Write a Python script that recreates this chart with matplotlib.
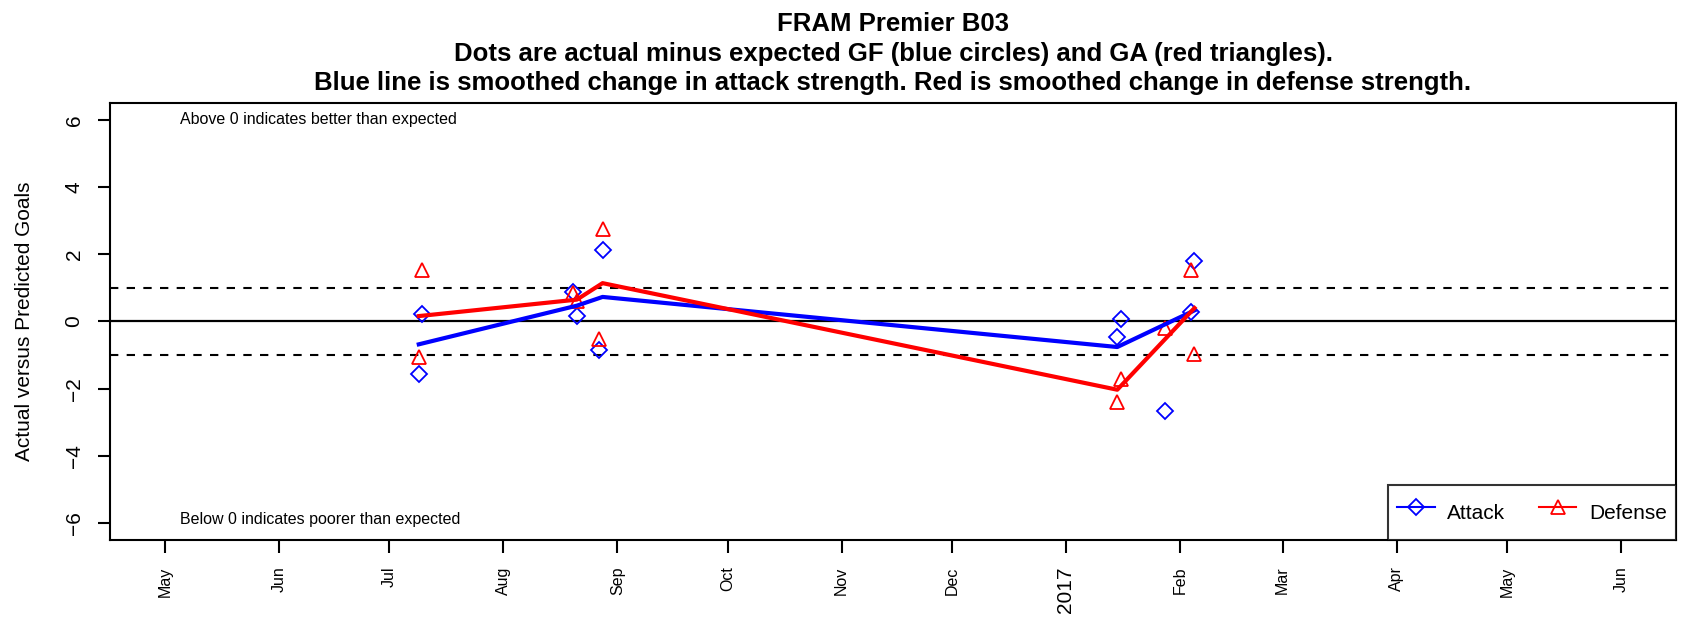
import numpy as np
import pandas as pd
import matplotlib
matplotlib.use('Agg')
import matplotlib.pyplot as plt

plt.rcParams['font.family'] = ['Liberation Sans', 'DejaVu Sans']

# game dates and actual minus expected goals
game_dates = pd.to_datetime(['2016-07-09', '2016-07-10', '2016-08-20', '2016-08-21',
                             '2016-08-27', '2016-08-28', '2017-01-15', '2017-01-16',
                             '2017-01-28', '2017-02-04', '2017-02-05'])
attack_pts = [-1.57, 0.23, 0.87, 0.16, -0.85, 2.13, -0.46, 0.06, -2.67, 0.28, 1.81]
defense_pts = [-1.07, 1.52, 0.85, 0.60, -0.53, 2.74, -2.39, -1.72, -0.19, 1.52, -0.98]

# smoothed strength change
smooth_dates = pd.to_datetime(['2016-07-09', '2016-08-21', '2016-08-28',
                               '2017-01-15', '2017-02-05'])
attack_smooth = [-0.68, 0.47, 0.73, -0.76, 0.33]
defense_smooth = [0.16, 0.65, 1.14, -2.03, 0.40]

month_ticks = pd.date_range('2016-05-01', '2017-06-01', freq='MS')
month_labels = ['May', 'Jun', 'Jul', 'Aug', 'Sep', 'Oct', 'Nov', 'Dec',
                '2017', 'Feb', 'Mar', 'Apr', 'May', 'Jun']

fig = plt.figure(figsize=(16.84, 6.2), dpi=100)
ax = fig.add_axes([0.0653, 0.129, 0.93, 0.705])

ax.axhline(0, color='black', lw=1.6)
ax.axhline(1, color='black', lw=1.5, linestyle=(0, (4, 4)))
ax.axhline(-1, color='black', lw=1.5, linestyle=(0, (4, 4)))

ax.plot(game_dates, attack_pts, linestyle='None', marker='D', markersize=8,
        markerfacecolor='none', markeredgecolor='blue', markeredgewidth=1.3)
ax.plot(game_dates, defense_pts, linestyle='None', marker='^', markersize=10,
        markerfacecolor='none', markeredgecolor='red', markeredgewidth=1.3)

ax.plot(smooth_dates, attack_smooth, color='blue', lw=3)
ax.plot(smooth_dates, defense_smooth, color='red', lw=3)

ax.set_xlim(pd.Timestamp('2016-04-16'), pd.Timestamp('2017-06-16'))
ax.set_ylim(-6.5, 6.5)

ax.set_yticks([-6, -4, -2, 0, 2, 4, 6])
ax.set_yticklabels(['\u22126', '\u22124', '\u22122', '0', '2', '4', '6'],
                   rotation=90, va='center', fontsize=15)
ax.set_xticks(month_ticks)
ax.set_xticklabels(month_labels, rotation=90, fontsize=11.5)
for lab in ax.get_xticklabels():
    if lab.get_text() == '2017':
        lab.set_fontsize(15)
ax.tick_params(axis='both', direction='out', length=9, width=1.5, pad=10, color='black')
for s in ax.spines.values():
    s.set_linewidth(1.5)

ax.set_ylabel('Actual versus Predicted Goals', fontsize=15, labelpad=22)

ax.text(pd.Timestamp('2016-05-05'), 6, 'Above 0 indicates better than expected',
        fontsize=11.5, ha='left', va='center')
ax.text(pd.Timestamp('2016-05-05'), -5.9, 'Below 0 indicates poorer than expected',
        fontsize=11.5, ha='left', va='center')

ax.set_title('FRAM Premier B03\n'
             'Dots are actual minus expected GF (blue circles) and GA (red triangles).\n'
             'Blue line is smoothed change in attack strength. Red is smoothed change in defense strength.',
             fontsize=18.5, fontweight='bold', pad=9, linespacing=1.3)

h1, = ax.plot([], [], color='blue', lw=1.5, marker='D', markersize=8,
              markerfacecolor='none', markeredgewidth=1.3)
h2, = ax.plot([], [], color='red', lw=1.5, marker='^', markersize=10,
              markerfacecolor='none', markeredgewidth=1.3)
leg = ax.legend([h1, h2], ['Attack', 'Defense'], loc='lower right', ncol=2,
                fontsize=15, frameon=True, fancybox=False, borderaxespad=0,
                handlelength=1.8, handleheight=2.3, handletextpad=0.6,
                columnspacing=1.6, borderpad=0.45)
leg.get_frame().set_edgecolor('black')
leg.get_frame().set_linewidth(1.5)

plt.savefig('out.png', dpi=100)
